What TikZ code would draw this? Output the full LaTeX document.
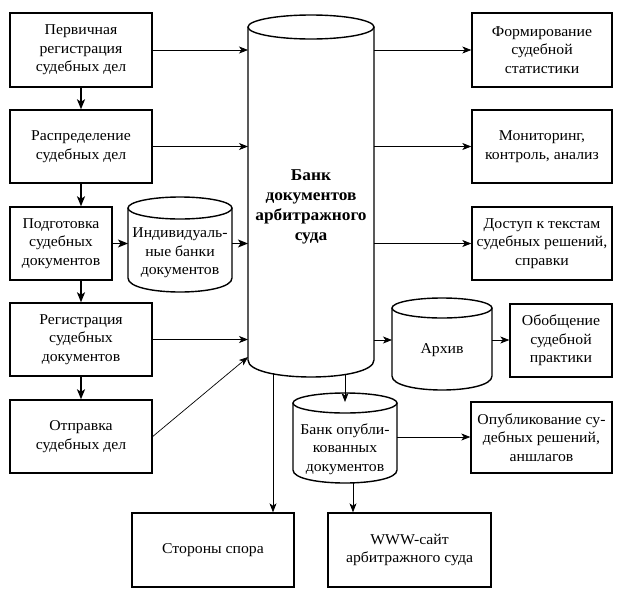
\documentclass[tikz,border=0pt]{standalone}
\usepackage{fontspec}
\setmainfont[FakeStretch=1.05]{Liberation Serif}
\usetikzlibrary{arrows.meta}
\newcommand\fs{\fontsize{15}{18.5}\selectfont}
\newcommand\fsb{\fontsize{16.5}{20}\selectfont\bfseries}
% cylinder: left, right, top, bottom, ry top, ry bottom
\newcommand\mycyl[6]{%
  \draw[cylline] ({(#1+#2)/2},{#3+#5}) ellipse [x radius={(#2-#1)/2}, y radius=#5];
  \draw[cylline] (#1,{#3+#5}) -- (#1,{#4-#6})
    .. controls (#1,{#4-#6+4/3*#6}) and (#2,{#4-#6+4/3*#6}) .. (#2,{#4-#6})
    -- (#2,{#3+#5});}
\begin{document}
\begin{tikzpicture}[x=1pt,y=-1pt,
  box/.style={draw, line width=1.4pt, align=center, font=\fs, inner sep=0pt},
  hold/.style={inner sep=0pt, outer sep=0pt},
  txt/.style={align=center, font=\fs, inner sep=0pt},
  arr/.style={-{Stealth[length=9pt,width=7pt,inset=2.5pt]}, line width=0.7pt},
  varr/.style={-{Stealth[length=10pt,width=8pt,inset=2.5pt]}, line width=1.4pt},
  cylline/.style={line width=1.4pt}]
\useasboundingbox (0,0) rectangle (619,592);

% left column
\node[box, minimum width=142pt, minimum height=74pt] (b1) at (81,50) {Первичная\\регистрация\\судебных дел};
\node[box, minimum width=142pt, minimum height=73pt] (b2) at (81,146.5) {Распределение\\судебных дел};
\node[box, minimum width=102pt, minimum height=73pt] (b3) at (61,243.5) {Подготовка\\судебных\\документов};
\node[box, minimum width=142pt, minimum height=73pt] (b4) at (81,339.5) {Регистрация\\судебных\\документов};
\node[box, minimum width=142pt, minimum height=73pt] (b5) at (81,436.5) {Отправка\\судебных дел};

% right column
\node[box, minimum width=140pt, minimum height=74pt] (r1) at (542,50) {Формирование\\судебной\\статистики};
\node[box, minimum width=140pt, minimum height=73pt] (r2) at (542,146.5) {Мониторинг,\\контроль, анализ};
\node[box, minimum width=140pt, minimum height=73pt] (r3) at (542,243.5) {Доступ к текстам\\судебных решений,\\справки};
\node[box, minimum width=102pt, minimum height=73pt] (r4) at (561,340.5) {Обобщение\\судебной\\практики};
\node[box, minimum width=141pt, minimum height=71pt] (r5) at (541.5,437.5) {Опубликование су-\\дебных решений,\\аншлагов};

% bottom
\node[box, minimum width=162pt, minimum height=74pt] (sp) at (213,550) {Стороны спора};
\node[box, minimum width=163pt, minimum height=74pt] (www) at (409.5,550) {WWW-сайт\\арбитражного суда};

% cylinders
\mycyl{248}{374}{15}{377}{12}{17}
\node[hold, minimum width=126pt, minimum height=362pt] (bank) at (311,196) {};
\node[txt, font=\fsb] (banktext) at (311,207) {Банк\\документов\\арбитражного\\суда};

\mycyl{128}{232}{197}{292}{11}{14}
\node[hold, minimum width=104pt, minimum height=95pt] (ind) at (180,244.5) {};
\node[txt] (indtext) at (180,253) {Индивидуаль-\\ные банки\\документов};

\mycyl{392}{492}{298}{390}{10}{14}
\node[hold, minimum width=100pt, minimum height=92pt] (arch) at (442,344) {};
\node[txt] (archtext) at (442,350) {Архив};

\mycyl{293}{397}{393}{483}{10}{13}
\node[hold, minimum width=104pt, minimum height=90pt] (pub) at (345,438) {};
\node[txt] (pubtext) at (345,449) {Банк опубли-\\кованных\\документов};

% left vertical arrows
\draw[varr] (b1.south) -- (b2.north);
\draw[varr] (b2.south) -- (b2.south |- b3.north);
\draw[varr] (b2.south |- b3.south) -- (b4.north);
\draw[varr] (b4.south) -- (b5.north);

% left to bank
\draw[arr] (b1.east) -- (b1.east -| bank.west);
\draw[arr] (b2.east) -- (b2.east -| bank.west);
\draw[varr] (b3.east) -- (b3.east -| ind.west);
\draw[varr] (ind.east |- b3.east) -- (b3.east -| bank.west);
\draw[arr] (b4.east) -- (b4.east -| bank.west);
\coordinate (d5) at (248,357);
\draw[arr] (b5.east) -- (d5);

% bank to right
\draw[arr] (bank.east |- r1.west) -- (r1.west);
\draw[arr] (bank.east |- r2.west) -- (r2.west);
\draw[arr] (bank.east |- r3.west) -- (r3.west);
\coordinate (a1) at (374,340);
\draw[arr] (a1) -- (a1 -| arch.west);
\draw[arr] (arch.east |- a1) -- (a1 -| r4.west);
\coordinate (p1) at (397,437);
\draw[arr] (p1) -- (p1 -| r5.west);

% bank down
\coordinate (bk1) at (273,373);
\draw[arr] (bk1) -- (bk1 |- sp.north);
\coordinate (bk2) at (345,375);
\coordinate (pt) at (345,402);
\draw[arr] (bk2) -- (pt);
\coordinate (pb) at (353,483);
\draw[arr] (pb) -- (pb |- www.north);
\end{tikzpicture}
\end{document}
